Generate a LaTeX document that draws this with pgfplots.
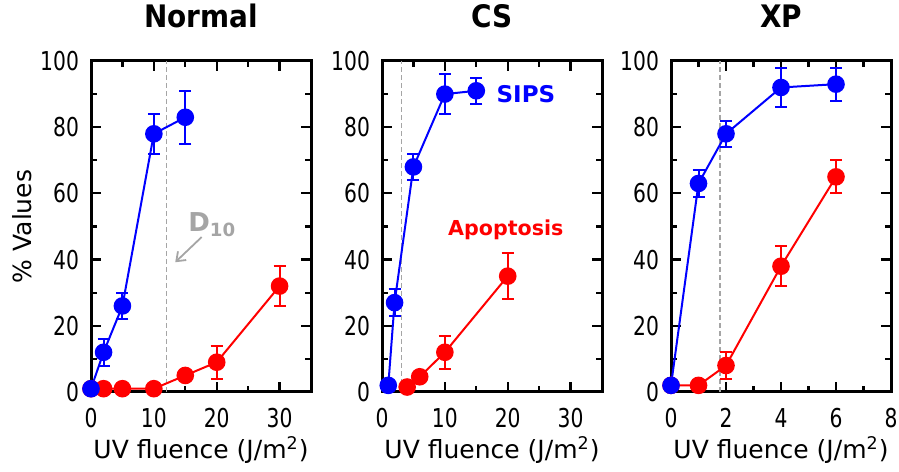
\documentclass[border=0pt]{standalone}
\usepackage{fontspec}
\setmainfont{DejaVu Sans}
\usepackage{graphicx}
\usepackage{pgfplots}
\pgfplotsset{compat=1.18}
\usetikzlibrary{arrows.meta}

\definecolor{sipsblue}{RGB}{0,0,255}
\definecolor{apored}{RGB}{255,0,0}
\definecolor{dgray}{RGB}{165,165,165}

\newcommand{\narrow}[1]{\scalebox{0.78}[1]{#1}}

\pgfplotsset{
  panel/.style={
    scale only axis, width=110pt, height=165.5pt,
    anchor=south west,
    ymin=0, ymax=100, ytick={0,20,...,100}, minor y tick num=1,
    minor x tick num=1,
    tick align=inside,
    axis line style={line width=1.5pt},
    every tick/.style={black, line width=1.1pt},
    major tick length=5pt, minor tick length=3pt,
    tick label style={font=\fontsize{13}{15}\selectfont},
    xticklabel={\narrow{\pgfmathprintnumber[assume math mode=true]{\tick}}},
    yticklabel={\narrow{\pgfmathprintnumber[assume math mode=true]{\tick}}},
    xticklabel style={yshift=-4.5pt},
    yticklabel style={xshift=-2.5pt},
    xlabel={UV fluence (J/m\textsuperscript{2})},
    xlabel style={font=\fontsize{12.5}{15}\selectfont, at={(axis description cs:0.5,0)}, anchor=center, yshift=-29pt},
    title style={font=\bfseries\fontsize{15.5}{18}\selectfont, at={(axis description cs:0.5,1)}, anchor=base, yshift=10.5pt},
    clip=false,
  },
  sips/.style={sipsblue, line width=1pt, mark=*, mark size=3.9pt,
    mark options={solid, fill=sipsblue},
    error bars/.cd, y dir=both, y explicit,
    error bar style={line width=1pt, sipsblue},
    error mark options={rotate=90, mark size=3pt, line width=1pt, sipsblue}},
  apo/.style={apored, line width=1pt, mark=*, mark size=3.9pt,
    mark options={solid, fill=apored},
    error bars/.cd, y dir=both, y explicit,
    error bar style={line width=1pt, apored},
    error mark options={rotate=90, mark size=3pt, line width=1pt, apored}},
  d10/.style={dgray, line width=0.8pt, dash pattern=on 2.5pt off 1.5pt, mark=none},
}

\begin{document}
\begin{tikzpicture}
\useasboundingbox (0,0) rectangle (449.5pt,235.5pt);

% ---------- Normal ----------
\begin{axis}[panel, at={(45.5pt,39.5pt)},
  title={\scalebox{0.9}[1]{Normal}},
  xmin=0, xmax=35, xtick={0,10,20,30},
  ylabel={\% Values},
  ylabel style={font=\fontsize{12.5}{15}\selectfont, at={(axis description cs:-0.3136,0.5)}, anchor=center},
]
\addplot[d10] coordinates {(12,0) (12,100)};
\addplot[apo] coordinates {
  (0,1) +- (0,0)
  (2,1) +- (0,0)
  (5,1) +- (0,0)
  (10,1) +- (0,0)
  (15,5) +- (0,0)
  (20,9) +- (0,5)
  (30,32) +- (0,6)
};
\addplot[sips] coordinates {
  (0,1) +- (0,0)
  (2,12) +- (0,4)
  (5,26) +- (0,4)
  (10,78) +- (0,6)
  (15,83) +- (0,8)
};
\node[dgray, font=\bfseries\fontsize{13}{15}\selectfont] at (axis cs:19.3,50.5) {D\textsubscript{10}};
\draw[dgray, line width=0.9pt, -{Straight Barb[length=4pt,width=6pt]}] (axis cs:17.6,46.8) -- (axis cs:13.4,39.2);
\end{axis}

% ---------- CS ----------
\begin{axis}[panel, at={(191pt,39.5pt)},
  title={\scalebox{0.9}[1]{CS}},
  xmin=0, xmax=35, xtick={0,10,20,30},
]
\addplot[d10] coordinates {(3.1,0) (3.1,100)};
\addplot[apo] coordinates {
  (4,1.5) +- (0,0)
  (6,4.6) +- (0,0)
  (10,12) +- (0,5)
  (20,35) +- (0,7)
};
\addplot[sips] coordinates {
  (1,2) +- (0,0)
  (2,27) +- (0,4)
  (5,68) +- (0,4)
  (10,90) +- (0,6)
  (15,91) +- (0,4)
};
\node[sipsblue, font=\bfseries\fontsize{11.5}{13}\selectfont] at (axis cs:22.9,90) {SIPS};
\node[apored, font=\bfseries\fontsize{10.3}{13}\selectfont] at (axis cs:19.7,49) {Apoptosis};
\end{axis}

% ---------- XP ----------
\begin{axis}[panel, at={(335.5pt,39.5pt)},
  title={\scalebox{0.9}[1]{XP}},
  xmin=0, xmax=8, xtick={0,2,...,8},
]
\addplot[d10] coordinates {(1.78,0) (1.78,100)};
\addplot[apo] coordinates {
  (0,2) +- (0,0)
  (1,2) +- (0,0)
  (2,8) +- (0,4)
  (4,38) +- (0,6)
  (6,65) +- (0,5)
};
\addplot[sips] coordinates {
  (0,2) +- (0,0)
  (1,63) +- (0,4)
  (2,78) +- (0,4)
  (4,92) +- (0,6)
  (6,93) +- (0,5)
};
\end{axis}
\end{tikzpicture}
\end{document}
